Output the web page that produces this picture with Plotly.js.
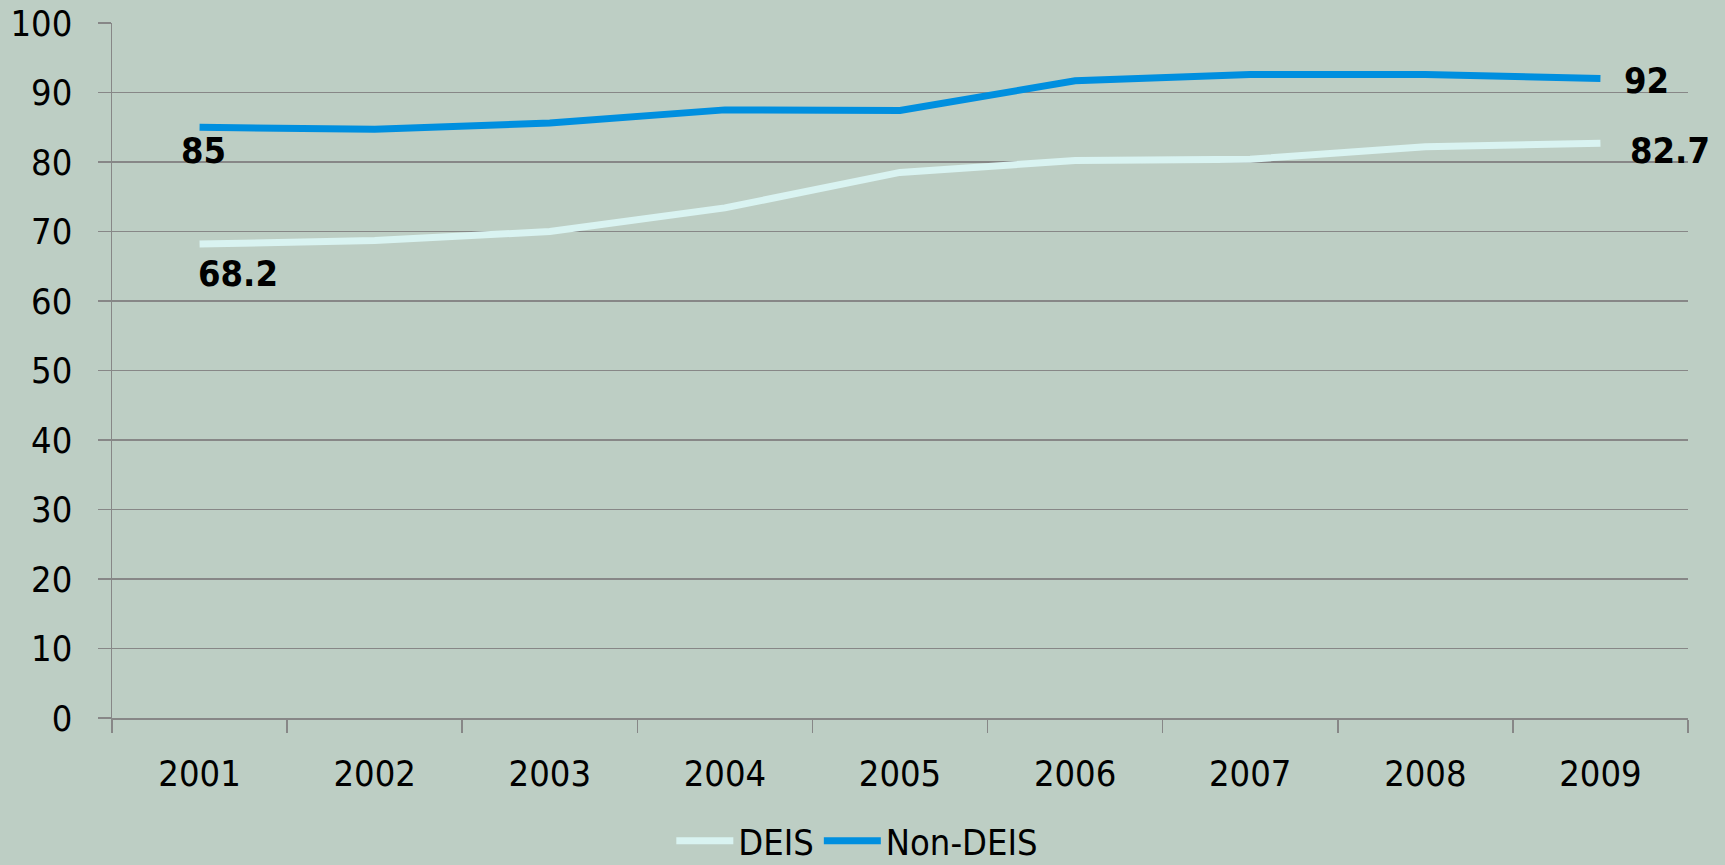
<!DOCTYPE html>
<html>
<head>
<meta charset="utf-8">
<script src="https://cdn.plot.ly/plotly-3.0.1.min.js"></script>
<style>
  html, body { margin: 0; padding: 0; background: #bdcec4; }
  #chart { width: 1725px; height: 865px; }
</style>
</head>
<body>
<div id="chart"></div>
<script>
// Years on the category axis
const years = ['2001', '2002', '2003', '2004', '2005', '2006', '2007', '2008', '2009'];

// Percentage values per series
const deis    = [68.2, 68.7, 70.0, 73.4, 78.5, 80.2, 80.4, 82.2, 82.7];
const nonDeis = [85.0, 84.7, 85.6, 87.5, 87.4, 91.7, 92.6, 92.6, 92.0];

const seriesNames = ['DEIS', 'Non-DEIS'];

const FONT = "'DejaVu Sans Condensed', 'Liberation Sans Narrow', 'DejaVu Sans', sans-serif";
const GRID = '#878787';
const BG = '#bdcec4';

const traces = [
  {
    x: years, y: deis, name: seriesNames[0], type: 'scatter', mode: 'lines',
    line: { color: '#d9f3f1', width: 7 }, hoverinfo: 'x+y'
  },
  {
    x: years, y: nonDeis, name: seriesNames[1], type: 'scatter', mode: 'lines',
    line: { color: '#008fdf', width: 7 }, hoverinfo: 'x+y'
  }
];

// Value labels at the first and last year of each series (x = category index)
const last = years.length - 1;
const labelFont = { family: FONT, size: 36, color: '#000000' };
function valueLabel(idx, value, xanchor, xshift, yshift) {
  return {
    xref: 'x', yref: 'y', x: idx, y: value,
    text: '<b>' + String(value) + '</b>',
    showarrow: false, font: labelFont,
    xanchor: xanchor, yanchor: 'middle',
    xshift: xshift, yshift: yshift
  };
}
const annotations = [
  valueLabel(0, nonDeis[0], 'center', 4, -23),
  valueLabel(0, deis[0], 'left', -4, -29),
  valueLabel(last, nonDeis[last], 'left', 22, -2),
  valueLabel(last, deis[last], 'left', 28, -7)
];

const layout = {
  width: 1725,
  height: 865,
  paper_bgcolor: BG,
  plot_bgcolor: BG,
  margin: { l: 112, r: 37, t: 23, b: 147 },
  font: { family: FONT, size: 36, color: '#000000' },
  showlegend: true,
  legend: {
    orientation: 'h',
    xref: 'container', yref: 'container',
    x: 0.497, xanchor: 'center',
    y: 0.028, yanchor: 'middle',
    font: { family: FONT, size: 36, color: '#000000' },
    bgcolor: 'rgba(0,0,0,0)',
    itemwidth: 57,
    tracegroupgap: 0
  },
  xaxis: {
    type: 'category',
    range: [-0.5, 8.5],
    tickson: 'boundaries',
    ticks: 'outside',
    ticklen: 13,
    tickwidth: 1.5,
    tickcolor: GRID,
    showline: true,
    linecolor: GRID,
    linewidth: 1.5,
    showgrid: false,
    ticklabelstandoff: 23,
    tickfont: { family: FONT, size: 36, color: '#000000' }
  },
  yaxis: {
    range: [0, 100],
    dtick: 10,
    ticks: 'outside',
    ticklen: 13,
    tickwidth: 1.5,
    tickcolor: GRID,
    showline: true,
    linecolor: GRID,
    linewidth: 1.5,
    showgrid: true,
    gridcolor: GRID,
    gridwidth: 1.5,
    zeroline: false,
    ticklabelstandoff: 18,
    tickfont: { family: FONT, size: 36, color: '#000000' }
  },
  annotations: annotations
};

Plotly.newPlot('chart', traces, layout, { displayModeBar: false, staticPlot: true });
</script>
</body>
</html>
